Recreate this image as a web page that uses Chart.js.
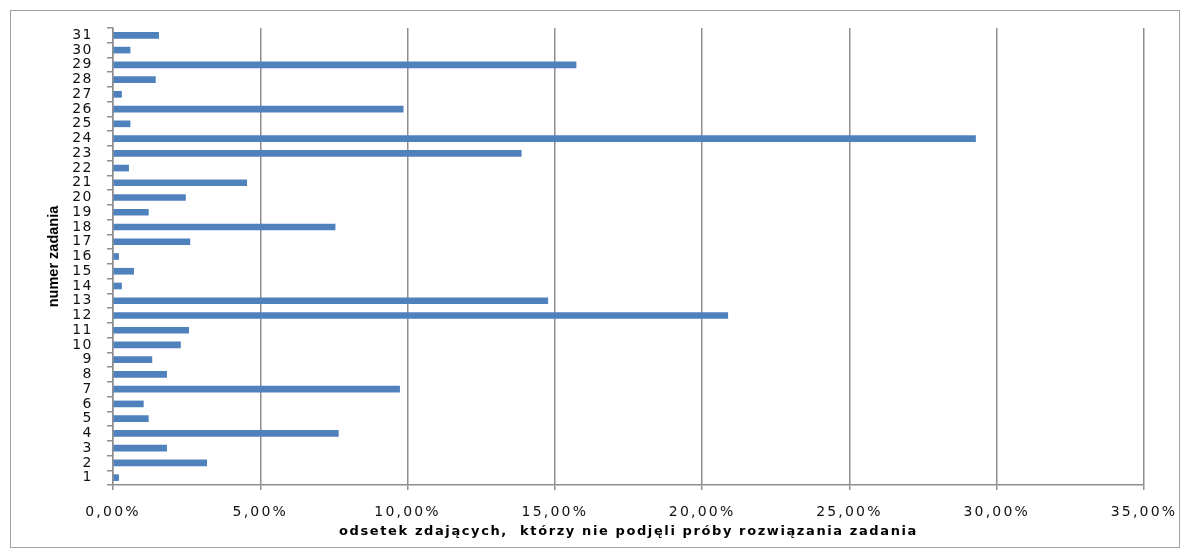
<!DOCTYPE html>
<html>
<head>
<meta charset="utf-8">
<script src="https://cdn.jsdelivr.net/npm/chart.js@4/dist/chart.umd.min.js"></script>
<style>
  html, body { margin: 0; padding: 0; background: #fff; }
  #wrap { width: 1189px; height: 557px; position: relative; }
</style>
</head>
<body>
<div id="wrap"><canvas id="wykres" width="1189" height="557"></canvas></div>
<script>
// numery zadań (oś pionowa, od dołu)
const zadania = ['1','2','3','4','5','6','7','8','9','10','11','12','13','14','15','16',
                 '17','18','19','20','21','22','23','24','25','26','27','28','29','30','31'];

// odsetek zdających, którzy nie podjęli próby rozwiązania zadania [%]
const odsetek = [0.19, 3.18, 1.82, 7.65, 1.20, 1.03, 9.73, 1.82, 1.32, 2.29, 2.57, 20.87,
                 14.76, 0.29, 0.70, 0.19, 2.61, 7.54, 1.20, 2.46, 4.54, 0.53, 13.86, 29.28,
                 0.58, 9.85, 0.29, 1.44, 15.72, 0.58, 1.55];

// podziałka osi poziomej [%]
const osX = { min: 0, max: 35, krok: 5 };

const tytulX = 'odsetek zdających,  którzy nie podjęli próby rozwiązania zadania';
const tytulY = 'numer zadania';

const szary = '#8e8e8e';

// rozstrzelenie liter: osobno dla etykiet i tytułu każdej osi
const odstepy = {
  x: { etykiety: '2.2px', tytul: '1.6px' },
  y: { etykiety: '1.5px', tytul: '0px' }
};

function zOdstepem(fn, odstep) {
  return function (...args) {
    const ctx = this.ctx;
    const poprzedni = ctx.letterSpacing;
    ctx.letterSpacing = odstep;
    fn.apply(this, args);
    ctx.letterSpacing = poprzedni;
  };
}

const rozstrzelenie = {
  id: 'rozstrzelenie',
  afterLayout(chart) {
    for (const id of Object.keys(odstepy)) {
      const s = chart.scales[id];
      if (!s || s._rozstrzelone) continue;
      const proto = Object.getPrototypeOf(s);
      s.drawLabels = zOdstepem(proto.drawLabels, odstepy[id].etykiety);
      s.drawTitle = zOdstepem(proto.drawTitle, odstepy[id].tytul);
      s._rozstrzelone = true;
    }
  }
};

// cienka ramka wokół całego wykresu
const ramka = {
  id: 'ramka',
  afterDraw(chart) {
    const c = chart.ctx;
    c.save();
    c.strokeStyle = '#a0a0a0';
    c.lineWidth = 1;
    c.strokeRect(10.5, 10.5, 1169, 537);
    c.restore();
  }
};

new Chart(document.getElementById('wykres'), {
  type: 'bar',
  data: {
    labels: zadania,
    datasets: [{
      data: odsetek,
      backgroundColor: '#4f81bd',
      borderWidth: 0,
      barThickness: 6
    }]
  },
  plugins: [rozstrzelenie, ramka],
  options: {
    responsive: false,
    animation: false,
    devicePixelRatio: 1,
    indexAxis: 'y',
    layout: { padding: { top: 28, right: 45, bottom: 0, left: 0 } },
    plugins: {
      legend: { display: false },
      tooltip: { enabled: false }
    },
    scales: {
      x: {
        min: osX.min,
        max: osX.max,
        ticks: {
          stepSize: osX.krok,
          autoSkip: false,
          maxRotation: 0,
          color: '#111',
          padding: 14,
          font: { family: 'DejaVu Sans', size: 14 },
          callback: (v) => v.toFixed(2).replace('.', ',') + '%'
        },
        grid: { color: szary, lineWidth: 1.5, tickLength: 5, drawTicks: true },
        border: { color: szary, width: 1.5 },
        title: {
          display: true,
          text: tytulX,
          color: '#000',
          font: { family: 'DejaVu Sans', size: 13, weight: 'bold' },
          padding: { top: 0, bottom: 18 }
        },
        afterFit(s) { s.height = 72; }
      },
      y: {
        reverse: true,
        ticks: {
          autoSkip: false,
          color: '#111',
          padding: 14,
          font: { family: 'DejaVu Sans', size: 14 }
        },
        grid: { offset: true, drawOnChartArea: false, tickLength: 6, color: szary, lineWidth: 1.5 },
        border: { color: szary, width: 1.5 },
        title: {
          display: true,
          text: tytulY,
          color: '#000',
          font: { family: 'Liberation Sans', size: 14.5, weight: 'bold' },
          padding: { top: 45, bottom: 0 }
        },
        afterFit(s) { s.width = 113; }
      }
    }
  }
});
</script>
</body>
</html>
